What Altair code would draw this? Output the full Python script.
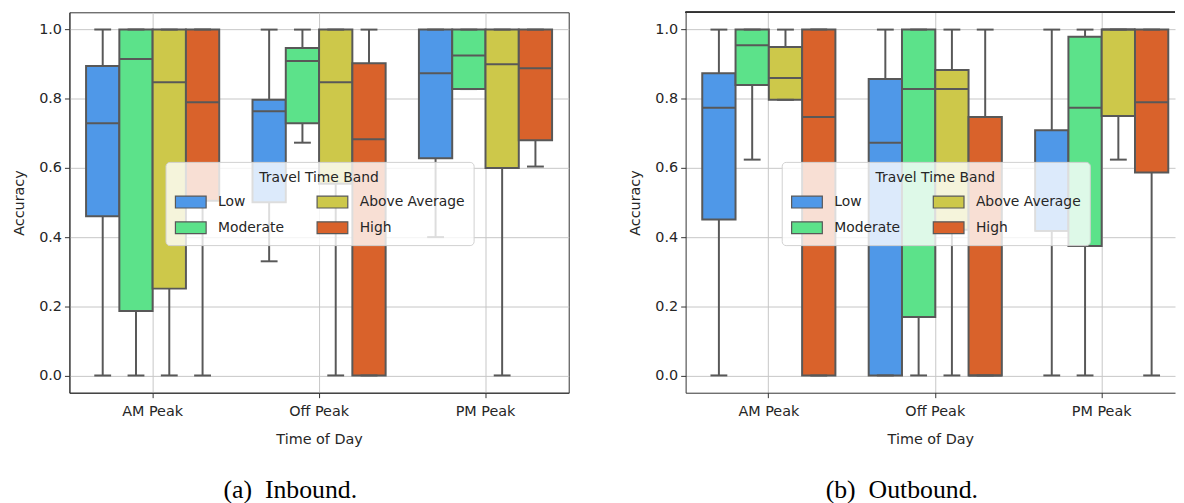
import altair as alt
import pandas as pd

TIMES = ["AM Peak", "Off Peak", "PM Peak"]
BANDS = ["Low", "Moderate", "Above Average", "High"]
COLORS = ["#4f98e8", "#5ce28a", "#cdc84a", "#d9622b"]
EDGE = "#585858"

# order: time-major (AM, Off, PM), band-minor (Low, Moderate, Above Average, High)
time_col = ["AM Peak"] * 4 + ["Off Peak"] * 4 + ["PM Peak"] * 4
band_col = BANDS * 3

# (a) Inbound
in_whislo = [0.00, 0.00, 0.00, 0.00, 0.330, 0.673, 0.00, 0.00, 0.400, 0.828, 0.00, 0.604]
in_q1 = [0.460, 0.186, 0.251, 0.505, 0.501, 0.729, 0.554, 0.00, 0.628, 0.828, 0.600, 0.680]
in_med = [0.729, 0.915, 0.848, 0.790, 0.764, 0.909, 0.848, 0.683, 0.874, 0.925, 0.900, 0.888]
in_q3 = [0.895, 1.00, 1.00, 1.00, 0.797, 0.947, 1.00, 0.903, 1.00, 1.00, 1.00, 1.00]
in_whishi = [1.00, 1.00, 1.00, 1.00, 1.00, 1.00, 1.00, 1.00, 1.00, 1.00, 1.00, 1.00]

# (b) Outbound
out_whislo = [0.00, 0.624, 0.797, 0.00, 0.00, 0.00, 0.00, 0.00, 0.00, 0.00, 0.624, 0.00]
out_q1 = [0.451, 0.840, 0.797, 0.00, 0.00, 0.169, 0.421, 0.00, 0.418, 0.374, 0.750, 0.587]
out_med = [0.774, 0.955, 0.860, 0.747, 0.673, 0.828, 0.828, 0.00, 0.418, 0.774, 1.00, 0.790]
out_q3 = [0.874, 1.00, 0.950, 1.00, 0.857, 1.00, 0.883, 0.747, 0.709, 0.979, 1.00, 1.00]
out_whishi = [1.00, 1.00, 1.00, 1.00, 1.00, 1.00, 1.00, 1.00, 1.00, 1.00, 1.00, 1.00]

FONT = "DejaVu Sans"
TXT = "#262626"


def make_df(wl, q1, med, q3, wh):
    return pd.DataFrame({
        "time": time_col, "band": band_col,
        "whislo": wl, "q1": q1, "med": med, "q3": q3, "whishi": wh,
    })


def panel(df, width, xscale, caption, view, top_rule):
    base = alt.Chart(df)
    yscale = alt.Scale(domain=[-0.05, 1.05], nice=False, zero=False)
    yaxis = alt.Axis(title="Accuracy", values=[0, 0.2, 0.4, 0.6, 0.8, 1.0], format=".1f",
                     tickSize=5, labelPadding=3, titlePadding=12, grid=True)
    xaxis = alt.Axis(title="Time of Day", labelAngle=0, tickSize=5, labelPadding=7,
                     titlePadding=15, bandPosition=0.5, grid=True)

    def X():
        return alt.X("time:N", sort=TIMES, scale=xscale, axis=xaxis)

    def XO():
        return alt.XOffset("band:N", sort=BANDS,
                           scale=alt.Scale(paddingInner=0, paddingOuter=0))

    def Y(f):
        return alt.Y(f, scale=yscale, axis=yaxis)

    wlo = base.mark_rule(color=EDGE, strokeWidth=2).encode(
        x=X(), xOffset=XO(), y=Y("whislo:Q"), y2="q1:Q")
    whi = base.mark_rule(color=EDGE, strokeWidth=2).encode(
        x=X(), xOffset=XO(), y=Y("q3:Q"), y2="whishi:Q")
    box = base.mark_bar(stroke=EDGE, strokeWidth=2, opacity=1).encode(
        x=X(), xOffset=XO(), y=Y("q1:Q"), y2="q3:Q",
        color=alt.Color(
            "band:N", sort=BANDS,
            scale=alt.Scale(domain=BANDS, range=COLORS),
            legend=alt.Legend(
                title="Travel Time Band", orient="none", legendX=97, legendY=151,
                columns=2, columnPadding=30, rowPadding=1, padding=9,
                titleAnchor="middle", titlePadding=1,
                symbolType="M-1,-0.387L1,-0.387L1,0.387L-1,0.387Z",
                symbolSize=961, symbolStrokeColor=EDGE, symbolStrokeWidth=1.2,
                symbolOpacity=1, labelOffset=11,
                fillColor="rgba(255,255,255,0.8)", strokeColor="#d0d0d0",
                cornerRadius=4,
            ),
        ),
    )
    med = base.mark_tick(size=33.6, thickness=2, color=EDGE, orient="horizontal",
                         opacity=1).encode(x=X(), xOffset=XO(), y=Y("med:Q"))
    clo = base.mark_tick(size=17, thickness=2, color=EDGE, orient="horizontal",
                         opacity=1).encode(x=X(), xOffset=XO(), y=Y("whislo:Q"))
    chi = base.mark_tick(size=17, thickness=2, color=EDGE, orient="horizontal",
                         opacity=1).encode(x=X(), xOffset=XO(), y=Y("whishi:Q"))
    layers = [box, wlo, whi, med, clo, chi]
    if top_rule:
        layers.append(
            alt.Chart(df).mark_rule(color="#333333", strokeWidth=1).encode(
                y=alt.datum(1.05, scale=yscale, axis=yaxis)))
    return alt.layer(*layers).properties(
        width=width, height=384, view=view,
        title=alt.TitleParams(
            text=caption, orient="bottom", anchor="middle", frame="bounds",
            font="Liberation Serif", fontSize=26, fontWeight="normal",
            color="black", offset=31),
    )


left = panel(
    make_df(in_whislo, in_q1, in_med, in_q3, in_whishi), 504,
    alt.Scale(paddingInner=0.2, paddingOuter=0.1),
    "(a)\u00a0\u00a0Inbound.",
    alt.ViewBackground(stroke="#333333", strokeWidth=1), False)

right = panel(
    make_df(out_whislo, out_q1, out_med, out_q3, out_whishi), 494,
    alt.Scale(paddingInner=0.2, paddingOuter=0.0702, align=0.712),
    "(b)\u00a0\u00a0Outbound.",
    alt.ViewBackground(stroke="transparent", strokeWidth=0), True)

chart = alt.hconcat(left, right, spacing=58).resolve_scale(
    color="independent").properties(
    padding={"left": 3, "top": 1, "right": 0, "bottom": 0}
).configure_axis(
    labelFont=FONT, labelFontSize=14.5, titleFont=FONT, titleFontSize=14.5,
    titleFontWeight="normal", labelColor=TXT, titleColor=TXT,
    gridColor="#c6c6c6", gridWidth=1, domainColor="#333333", tickColor="#333333",
    zindex=1,
).configure_legend(
    labelFont=FONT, labelFontSize=14, titleFont=FONT, titleFontSize=14,
    titleFontWeight="normal", labelColor=TXT, titleColor=TXT,
).configure_view(stroke="#333333")

chart.save("out.html", embed_options={"renderer": "svg", "actions": False})
